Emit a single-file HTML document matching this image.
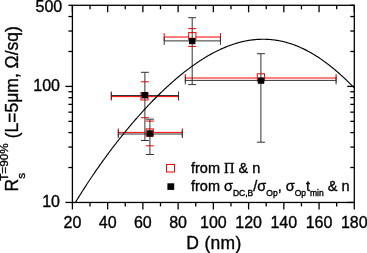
<!DOCTYPE html>
<html><head><meta charset="utf-8"><style>
html,body{margin:0;padding:0;background:#fff;}
body{width:367px;height:253px;overflow:hidden;position:relative;}
svg{position:absolute;left:0;top:0;will-change:transform;}
text{font-family:"Liberation Sans",sans-serif;fill:#000;stroke:#000;stroke-width:0.35px;}
</style></head><body>
<svg width="367" height="253" viewBox="0 0 367 253">
<rect width="367" height="253" fill="#fff"/>
<g stroke="#f00" stroke-width="1" fill="none">
<line x1="140.9" y1="81.8" x2="148.9" y2="81.8"/>
<line x1="140.9" y1="117.7" x2="148.9" y2="117.7"/>
<line x1="111.3" y1="96.6" x2="178.5" y2="96.6"/>
<line x1="111.3" y1="92.6" x2="111.3" y2="100.6"/>
<line x1="178.5" y1="92.6" x2="178.5" y2="100.6"/>
<line x1="188.2" y1="28.6" x2="196.2" y2="28.6"/>
<line x1="188.2" y1="46.4" x2="196.2" y2="46.4"/>
<line x1="164.2" y1="37.0" x2="220.4" y2="37.0"/>
<line x1="164.2" y1="33.0" x2="164.2" y2="41.0"/>
<line x1="220.4" y1="33.0" x2="220.4" y2="41.0"/>
<line x1="185.3" y1="78.0" x2="336.1" y2="78.0"/>
<line x1="185.3" y1="74.0" x2="185.3" y2="82.0"/>
<line x1="336.1" y1="74.0" x2="336.1" y2="82.0"/>
<line x1="145.9" y1="121.1" x2="153.9" y2="121.1"/>
<line x1="145.9" y1="145.8" x2="153.9" y2="145.8"/>
<line x1="118.3" y1="132.4" x2="182.3" y2="132.4"/>
<line x1="118.3" y1="128.4" x2="118.3" y2="136.4"/>
<line x1="182.3" y1="128.4" x2="182.3" y2="136.4"/>
</g>
<g stroke="#f00" stroke-width="1" fill="#fff">
<rect x="140.9" y="92.8" width="7.2" height="7.2"/>
<rect x="188.7" y="32.6" width="7.2" height="7.2"/>
<rect x="257.3" y="73.8" width="7.2" height="7.2"/>
<rect x="146.2" y="128.9" width="7.2" height="7.2"/>
</g>
<g stroke="#333" stroke-width="1" fill="none">
<line x1="144.9" y1="72.3" x2="144.9" y2="140.5"/>
<line x1="140.9" y1="72.3" x2="148.9" y2="72.3"/>
<line x1="140.9" y1="140.5" x2="148.9" y2="140.5"/>
<line x1="111.3" y1="95.5" x2="178.5" y2="95.5"/>
<line x1="111.3" y1="91.5" x2="111.3" y2="99.5"/>
<line x1="178.5" y1="91.5" x2="178.5" y2="99.5"/>
<line x1="192.2" y1="17.7" x2="192.2" y2="84.6"/>
<line x1="188.2" y1="17.7" x2="196.2" y2="17.7"/>
<line x1="188.2" y1="84.6" x2="196.2" y2="84.6"/>
<line x1="164.2" y1="40.9" x2="220.4" y2="40.9"/>
<line x1="164.2" y1="36.9" x2="164.2" y2="44.9"/>
<line x1="220.4" y1="36.9" x2="220.4" y2="44.9"/>
<line x1="260.9" y1="53.7" x2="260.9" y2="142.2"/>
<line x1="256.9" y1="53.7" x2="264.9" y2="53.7"/>
<line x1="256.9" y1="142.2" x2="264.9" y2="142.2"/>
<line x1="185.3" y1="80.4" x2="336.1" y2="80.4"/>
<line x1="185.3" y1="76.4" x2="185.3" y2="84.4"/>
<line x1="336.1" y1="76.4" x2="336.1" y2="84.4"/>
<line x1="149.9" y1="119.2" x2="149.9" y2="154.5"/>
<line x1="145.9" y1="119.2" x2="153.9" y2="119.2"/>
<line x1="145.9" y1="154.5" x2="153.9" y2="154.5"/>
<line x1="118.3" y1="134.0" x2="182.3" y2="134.0"/>
<line x1="118.3" y1="130.0" x2="118.3" y2="138.0"/>
<line x1="182.3" y1="130.0" x2="182.3" y2="138.0"/>
</g>
<g fill="#000">
<rect x="141.5" y="92.0" width="6.4" height="6.4"/>
<rect x="189.0" y="37.8" width="6.4" height="6.4"/>
<rect x="257.8" y="77.4" width="6.4" height="6.4"/>
<rect x="146.7" y="130.3" width="6.4" height="6.4"/>
</g>
<path d="M75.5,202.2 L76.0,201.4 L76.5,200.6 L77.0,199.8 L77.5,199.0 L78.0,198.2 L78.5,197.4 L79.0,196.6 L79.5,195.8 L80.0,195.0 L80.5,194.2 L81.0,193.4 L81.5,192.6 L82.0,191.8 L82.5,191.0 L83.0,190.2 L83.5,189.4 L84.0,188.7 L84.5,187.9 L85.0,187.1 L85.5,186.3 L86.0,185.6 L86.5,184.8 L87.0,184.0 L87.5,183.3 L88.0,182.5 L88.5,181.8 L89.0,181.0 L89.5,180.3 L90.0,179.5 L90.5,178.8 L91.0,178.0 L91.5,177.3 L92.0,176.5 L92.5,175.8 L93.0,175.0 L93.5,174.3 L94.0,173.6 L94.5,172.8 L95.0,172.1 L95.5,171.4 L96.0,170.7 L96.5,169.9 L97.0,169.2 L97.5,168.5 L98.0,167.8 L98.5,167.1 L99.0,166.4 L99.5,165.6 L100.0,164.9 L100.5,164.2 L101.0,163.5 L101.5,162.8 L102.0,162.1 L102.5,161.4 L103.0,160.7 L103.5,160.0 L104.0,159.3 L104.5,158.7 L105.0,158.0 L105.5,157.3 L106.0,156.6 L106.5,155.9 L107.0,155.2 L107.5,154.6 L108.0,153.9 L108.5,153.2 L109.0,152.5 L109.5,151.9 L110.0,151.2 L110.5,150.5 L111.0,149.9 L111.5,149.2 L112.0,148.5 L112.5,147.9 L113.0,147.2 L113.5,146.6 L114.0,145.9 L114.5,145.3 L115.0,144.6 L115.5,144.0 L116.0,143.3 L116.5,142.7 L117.0,142.0 L117.5,141.4 L118.0,140.8 L118.5,140.1 L119.0,139.5 L119.5,138.9 L120.0,138.2 L120.5,137.6 L121.0,137.0 L121.5,136.3 L122.0,135.7 L122.5,135.1 L123.0,134.5 L123.5,133.9 L124.0,133.2 L124.5,132.6 L125.0,132.0 L125.5,131.4 L126.0,130.8 L126.5,130.2 L127.0,129.6 L127.5,129.0 L128.0,128.4 L128.5,127.8 L129.0,127.2 L129.5,126.6 L130.0,126.0 L130.5,125.4 L131.0,124.8 L131.5,124.2 L132.0,123.6 L132.5,123.0 L133.0,122.4 L133.5,121.9 L134.0,121.3 L134.5,120.7 L135.0,120.1 L135.5,119.5 L136.0,119.0 L136.5,118.4 L137.0,117.8 L137.5,117.3 L138.0,116.7 L138.5,116.1 L139.0,115.6 L139.5,115.0 L140.0,114.4 L140.5,113.9 L141.0,113.3 L141.5,112.8 L142.0,112.2 L142.5,111.7 L143.0,111.1 L143.5,110.6 L144.0,110.0 L144.5,109.5 L145.0,108.9 L145.5,108.4 L146.0,107.9 L146.5,107.3 L147.0,106.8 L147.5,106.3 L148.0,105.7 L148.5,105.2 L149.0,104.7 L149.5,104.1 L150.0,103.6 L150.5,103.1 L151.0,102.6 L151.5,102.1 L152.0,101.5 L152.5,101.0 L153.0,100.5 L153.5,100.0 L154.0,99.5 L154.5,99.0 L155.0,98.5 L155.5,98.0 L156.0,97.5 L156.5,97.0 L157.0,96.5 L157.5,96.0 L158.0,95.5 L158.5,95.0 L159.0,94.5 L159.5,94.0 L160.0,93.5 L160.5,93.0 L161.0,92.5 L161.5,92.1 L162.0,91.6 L162.5,91.1 L163.0,90.6 L163.5,90.2 L164.0,89.7 L164.5,89.2 L165.0,88.7 L165.5,88.3 L166.0,87.8 L166.5,87.3 L167.0,86.9 L167.5,86.4 L168.0,86.0 L168.5,85.5 L169.0,85.1 L169.5,84.6 L170.0,84.2 L170.5,83.7 L171.0,83.3 L171.5,82.8 L172.0,82.4 L172.5,81.9 L173.0,81.5 L173.5,81.1 L174.0,80.6 L174.5,80.2 L175.0,79.8 L175.5,79.3 L176.0,78.9 L176.5,78.5 L177.0,78.0 L177.5,77.6 L178.0,77.2 L178.5,76.8 L179.0,76.4 L179.5,76.0 L180.0,75.5 L180.5,75.1 L181.0,74.7 L181.5,74.3 L182.0,73.9 L182.5,73.5 L183.0,73.1 L183.5,72.7 L184.0,72.3 L184.5,71.9 L185.0,71.5 L185.5,71.2 L186.0,70.8 L186.5,70.4 L187.0,70.0 L187.5,69.6 L188.0,69.2 L188.5,68.9 L189.0,68.5 L189.5,68.1 L190.0,67.7 L190.5,67.4 L191.0,67.0 L191.5,66.6 L192.0,66.3 L192.5,65.9 L193.0,65.6 L193.5,65.2 L194.0,64.9 L194.5,64.5 L195.0,64.2 L195.5,63.8 L196.0,63.5 L196.5,63.1 L197.0,62.8 L197.5,62.4 L198.0,62.1 L198.5,61.8 L199.0,61.4 L199.5,61.1 L200.0,60.8 L200.5,60.5 L201.0,60.1 L201.5,59.8 L202.0,59.5 L202.5,59.2 L203.0,58.9 L203.5,58.5 L204.0,58.2 L204.5,57.9 L205.0,57.6 L205.5,57.3 L206.0,57.0 L206.5,56.7 L207.0,56.4 L207.5,56.1 L208.0,55.8 L208.5,55.6 L209.0,55.3 L209.5,55.0 L210.0,54.7 L210.5,54.4 L211.0,54.1 L211.5,53.9 L212.0,53.6 L212.5,53.3 L213.0,53.1 L213.5,52.8 L214.0,52.5 L214.5,52.3 L215.0,52.0 L215.5,51.8 L216.0,51.5 L216.5,51.2 L217.0,51.0 L217.5,50.8 L218.0,50.5 L218.5,50.3 L219.0,50.0 L219.5,49.8 L220.0,49.6 L220.5,49.3 L221.0,49.1 L221.5,48.9 L222.0,48.6 L222.5,48.4 L223.0,48.2 L223.5,48.0 L224.0,47.8 L224.5,47.6 L225.0,47.4 L225.5,47.1 L226.0,46.9 L226.5,46.7 L227.0,46.5 L227.5,46.3 L228.0,46.1 L228.5,46.0 L229.0,45.8 L229.5,45.6 L230.0,45.4 L230.5,45.2 L231.0,45.0 L231.5,44.9 L232.0,44.7 L232.5,44.5 L233.0,44.3 L233.5,44.2 L234.0,44.0 L234.5,43.9 L235.0,43.7 L235.5,43.5 L236.0,43.4 L236.5,43.2 L237.0,43.1 L237.5,42.9 L238.0,42.8 L238.5,42.7 L239.0,42.5 L239.5,42.4 L240.0,42.3 L240.5,42.1 L241.0,42.0 L241.5,41.9 L242.0,41.8 L242.5,41.6 L243.0,41.5 L243.5,41.4 L244.0,41.3 L244.5,41.2 L245.0,41.1 L245.5,41.0 L246.0,40.9 L246.5,40.8 L247.0,40.7 L247.5,40.6 L248.0,40.5 L248.5,40.4 L249.0,40.4 L249.5,40.3 L250.0,40.2 L250.5,40.1 L251.0,40.1 L251.5,40.0 L252.0,39.9 L252.5,39.9 L253.0,39.8 L253.5,39.8 L254.0,39.7 L254.5,39.6 L255.0,39.6 L255.5,39.6 L256.0,39.5 L256.5,39.5 L257.0,39.4 L257.5,39.4 L258.0,39.4 L258.5,39.3 L259.0,39.3 L259.5,39.3 L260.0,39.3 L260.5,39.3 L261.0,39.2 L261.5,39.2 L262.0,39.2 L262.5,39.2 L263.0,39.2 L263.5,39.2 L264.0,39.2 L264.5,39.2 L265.0,39.2 L265.5,39.2 L266.0,39.3 L266.5,39.3 L267.0,39.3 L267.5,39.3 L268.0,39.4 L268.5,39.4 L269.0,39.4 L269.5,39.5 L270.0,39.5 L270.5,39.5 L271.0,39.6 L271.5,39.6 L272.0,39.7 L272.5,39.7 L273.0,39.8 L273.5,39.8 L274.0,39.9 L274.5,40.0 L275.0,40.0 L275.5,40.1 L276.0,40.2 L276.5,40.3 L277.0,40.3 L277.5,40.4 L278.0,40.5 L278.5,40.6 L279.0,40.7 L279.5,40.8 L280.0,40.9 L280.5,41.0 L281.0,41.1 L281.5,41.2 L282.0,41.3 L282.5,41.4 L283.0,41.5 L283.5,41.7 L284.0,41.8 L284.5,41.9 L285.0,42.0 L285.5,42.2 L286.0,42.3 L286.5,42.4 L287.0,42.6 L287.5,42.7 L288.0,42.9 L288.5,43.0 L289.0,43.2 L289.5,43.3 L290.0,43.5 L290.5,43.6 L291.0,43.8 L291.5,44.0 L292.0,44.1 L292.5,44.3 L293.0,44.5 L293.5,44.7 L294.0,44.8 L294.5,45.0 L295.0,45.2 L295.5,45.4 L296.0,45.6 L296.5,45.8 L297.0,46.0 L297.5,46.2 L298.0,46.4 L298.5,46.6 L299.0,46.8 L299.5,47.1 L300.0,47.3 L300.5,47.5 L301.0,47.7 L301.5,47.9 L302.0,48.2 L302.5,48.4 L303.0,48.6 L303.5,48.9 L304.0,49.1 L304.5,49.4 L305.0,49.6 L305.5,49.9 L306.0,50.1 L306.5,50.4 L307.0,50.6 L307.5,50.9 L308.0,51.2 L308.5,51.4 L309.0,51.7 L309.5,52.0 L310.0,52.3 L310.5,52.5 L311.0,52.8 L311.5,53.1 L312.0,53.4 L312.5,53.7 L313.0,54.0 L313.5,54.3 L314.0,54.6 L314.5,54.9 L315.0,55.2 L315.5,55.5 L316.0,55.8 L316.5,56.2 L317.0,56.5 L317.5,56.8 L318.0,57.1 L318.5,57.4 L319.0,57.8 L319.5,58.1 L320.0,58.4 L320.5,58.8 L321.0,59.1 L321.5,59.5 L322.0,59.8 L322.5,60.2 L323.0,60.5 L323.5,60.9 L324.0,61.2 L324.5,61.6 L325.0,62.0 L325.5,62.3 L326.0,62.7 L326.5,63.1 L327.0,63.5 L327.5,63.8 L328.0,64.2 L328.5,64.6 L329.0,65.0 L329.5,65.4 L330.0,65.8 L330.5,66.2 L331.0,66.6 L331.5,67.0 L332.0,67.4 L332.5,67.8 L333.0,68.2 L333.5,68.6 L334.0,69.0 L334.5,69.4 L335.0,69.8 L335.5,70.3 L336.0,70.7 L336.5,71.1 L337.0,71.5 L337.5,72.0 L338.0,72.4 L338.5,72.8 L339.0,73.3 L339.5,73.7 L340.0,74.2 L340.5,74.6 L341.0,75.1 L341.5,75.5 L342.0,76.0 L342.5,76.4 L343.0,76.9 L343.5,77.4 L344.0,77.8 L344.5,78.3 L345.0,78.8 L345.5,79.2 L346.0,79.7 L346.5,80.2 L347.0,80.7 L347.5,81.2 L348.0,81.6 L348.5,82.1 L349.0,82.6 L349.5,83.1 L350.0,83.6 L350.5,84.1 L351.0,84.6 L351.5,85.1 L352.0,85.6 L352.5,86.1 L353.0,86.6 L353.5,87.1 L354.0,87.6" stroke="#000" stroke-width="1.15" fill="none"/>
<g stroke="#000" stroke-width="1.3" fill="none">
<rect x="72.4" y="5.3" width="281.90" height="197.15"/>
<line x1="72.40" y1="202.45" x2="72.40" y2="209.45"/>
<line x1="72.40" y1="5.30" x2="72.40" y2="12.30"/>
<line x1="90.02" y1="202.45" x2="90.02" y2="206.45"/>
<line x1="90.02" y1="5.30" x2="90.02" y2="9.30"/>
<line x1="107.64" y1="202.45" x2="107.64" y2="209.45"/>
<line x1="107.64" y1="5.30" x2="107.64" y2="12.30"/>
<line x1="125.26" y1="202.45" x2="125.26" y2="206.45"/>
<line x1="125.26" y1="5.30" x2="125.26" y2="9.30"/>
<line x1="142.88" y1="202.45" x2="142.88" y2="209.45"/>
<line x1="142.88" y1="5.30" x2="142.88" y2="12.30"/>
<line x1="160.49" y1="202.45" x2="160.49" y2="206.45"/>
<line x1="160.49" y1="5.30" x2="160.49" y2="9.30"/>
<line x1="178.11" y1="202.45" x2="178.11" y2="209.45"/>
<line x1="178.11" y1="5.30" x2="178.11" y2="12.30"/>
<line x1="195.73" y1="202.45" x2="195.73" y2="206.45"/>
<line x1="195.73" y1="5.30" x2="195.73" y2="9.30"/>
<line x1="213.35" y1="202.45" x2="213.35" y2="209.45"/>
<line x1="213.35" y1="5.30" x2="213.35" y2="12.30"/>
<line x1="230.97" y1="202.45" x2="230.97" y2="206.45"/>
<line x1="230.97" y1="5.30" x2="230.97" y2="9.30"/>
<line x1="248.59" y1="202.45" x2="248.59" y2="209.45"/>
<line x1="248.59" y1="5.30" x2="248.59" y2="12.30"/>
<line x1="266.21" y1="202.45" x2="266.21" y2="206.45"/>
<line x1="266.21" y1="5.30" x2="266.21" y2="9.30"/>
<line x1="283.83" y1="202.45" x2="283.83" y2="209.45"/>
<line x1="283.83" y1="5.30" x2="283.83" y2="12.30"/>
<line x1="301.44" y1="202.45" x2="301.44" y2="206.45"/>
<line x1="301.44" y1="5.30" x2="301.44" y2="9.30"/>
<line x1="319.06" y1="202.45" x2="319.06" y2="209.45"/>
<line x1="319.06" y1="5.30" x2="319.06" y2="12.30"/>
<line x1="336.68" y1="202.45" x2="336.68" y2="206.45"/>
<line x1="336.68" y1="5.30" x2="336.68" y2="9.30"/>
<line x1="354.30" y1="202.45" x2="354.30" y2="209.45"/>
<line x1="354.30" y1="5.30" x2="354.30" y2="12.30"/>
<line x1="65.40" y1="202.45" x2="72.40" y2="202.45"/>
<line x1="347.30" y1="202.45" x2="354.30" y2="202.45"/>
<line x1="68.40" y1="167.52" x2="72.40" y2="167.52"/>
<line x1="350.30" y1="167.52" x2="354.30" y2="167.52"/>
<line x1="68.40" y1="147.08" x2="72.40" y2="147.08"/>
<line x1="350.30" y1="147.08" x2="354.30" y2="147.08"/>
<line x1="68.40" y1="132.59" x2="72.40" y2="132.59"/>
<line x1="350.30" y1="132.59" x2="354.30" y2="132.59"/>
<line x1="68.40" y1="121.34" x2="72.40" y2="121.34"/>
<line x1="350.30" y1="121.34" x2="354.30" y2="121.34"/>
<line x1="68.40" y1="112.15" x2="72.40" y2="112.15"/>
<line x1="350.30" y1="112.15" x2="354.30" y2="112.15"/>
<line x1="68.40" y1="104.38" x2="72.40" y2="104.38"/>
<line x1="350.30" y1="104.38" x2="354.30" y2="104.38"/>
<line x1="68.40" y1="97.65" x2="72.40" y2="97.65"/>
<line x1="350.30" y1="97.65" x2="354.30" y2="97.65"/>
<line x1="68.40" y1="91.72" x2="72.40" y2="91.72"/>
<line x1="350.30" y1="91.72" x2="354.30" y2="91.72"/>
<line x1="65.40" y1="86.41" x2="72.40" y2="86.41"/>
<line x1="347.30" y1="86.41" x2="354.30" y2="86.41"/>
<line x1="68.40" y1="51.48" x2="72.40" y2="51.48"/>
<line x1="350.30" y1="51.48" x2="354.30" y2="51.48"/>
<line x1="68.40" y1="31.04" x2="72.40" y2="31.04"/>
<line x1="350.30" y1="31.04" x2="354.30" y2="31.04"/>
<line x1="68.40" y1="16.55" x2="72.40" y2="16.55"/>
<line x1="350.30" y1="16.55" x2="354.30" y2="16.55"/>
<line x1="68.40" y1="5.30" x2="72.40" y2="5.30"/>
<line x1="350.30" y1="5.30" x2="354.30" y2="5.30"/>
</g>
<g font-size="16">
<text x="72.40" y="228" text-anchor="middle">20</text>
<text x="107.64" y="228" text-anchor="middle">40</text>
<text x="142.88" y="228" text-anchor="middle">60</text>
<text x="178.11" y="228" text-anchor="middle">80</text>
<text x="213.35" y="228" text-anchor="middle">100</text>
<text x="248.59" y="228" text-anchor="middle">120</text>
<text x="283.83" y="228" text-anchor="middle">140</text>
<text x="319.06" y="228" text-anchor="middle">160</text>
<text x="354.30" y="228" text-anchor="middle">180</text>
<text x="60" y="91" text-anchor="end">100</text>
<text x="62.2" y="11.7" text-anchor="end">500</text>
<text x="60" y="207" text-anchor="end">10</text>
<text x="186.3" y="248.6" font-size="17.5" letter-spacing="0.3">D (nm)</text>
</g>
<!-- legend -->
<rect x="166.5" y="164.5" width="8" height="7.5" stroke="#f00" stroke-width="1" fill="#fff"/>
<rect x="167.4" y="183.3" width="6.8" height="6.6" fill="#000"/>
<g font-size="14.5">
<text x="191" y="172.9">from <tspan font-family="Liberation Serif">&#928;</tspan> &amp; n</text>
<text x="191" y="191.2">from <tspan>&#963;</tspan><tspan font-size="8.5" dy="5">DC,B</tspan><tspan dy="-5">/&#963;</tspan><tspan font-size="8.5" dy="5">Op</tspan><tspan dy="-5">, &#963;</tspan><tspan font-size="8.5" dy="5">Op</tspan><tspan dy="-5">t</tspan><tspan font-size="8.5" dy="5">min</tspan><tspan dy="-5"> &amp; n</tspan></text>
</g>
<!-- y title -->
<g transform="translate(17.6,191.5) rotate(-90)" font-size="17.5">
<text x="0" y="0">R<tspan font-size="11.8" dy="7.4">s</tspan><tspan font-size="11.8" dx="-7.9" dy="-17.2">T=90%</tspan><tspan dy="9.8"> (L=5&#956;m, &#937;/sq)</tspan></text>
</g>
</svg>
</body></html>
